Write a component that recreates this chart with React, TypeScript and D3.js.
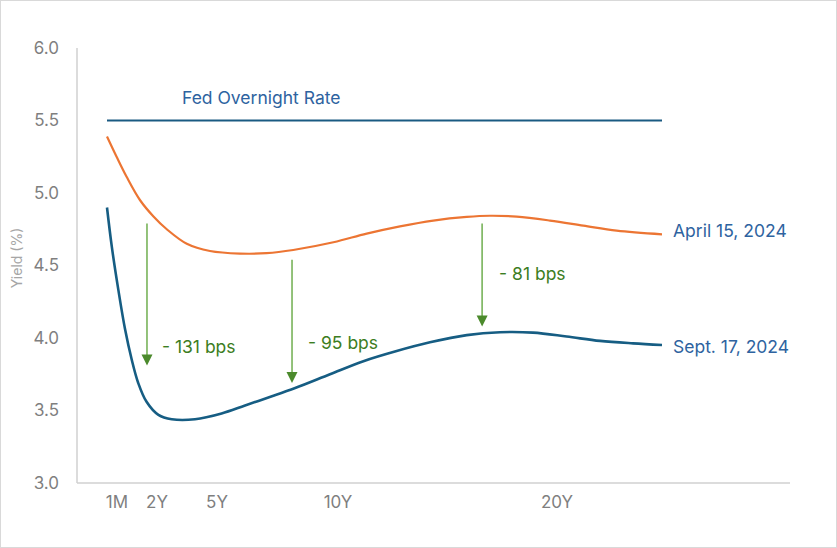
import React from 'react'
import * as d3 from 'd3'

// maturity in years
const tickYears = [1 / 12, 2, 5, 10, 20]
const tickLabels = ['1M', '2Y', '5Y', '10Y', '20Y']
const yTicks = [3.0, 3.5, 4.0, 4.5, 5.0, 5.5, 6.0]

const fedYears = [0, 25]
const fedRate = [5.5, 5.5]

const aprilYears = [0, 0.08, 0.55, 1.19, 1.82, 2.49, 3.49, 4.65, 5.95, 7.05, 8.15, 9.81, 11.31, 12.83, 14.35, 15.88, 16.94, 18.16, 19.68, 21.25, 22.84, 25]
const aprilYields = [5.39, 5.25, 5.11, 4.95, 4.84, 4.75, 4.65, 4.6, 4.582, 4.585, 4.607, 4.66, 4.72, 4.77, 4.81, 4.835, 4.843, 4.837, 4.81, 4.775, 4.74, 4.715]

const septYears = [0, 0.04, 0.15, 0.47, 0.79, 1.1, 1.5, 2.07, 2.74, 3.9, 5.19, 6.16, 7.27, 8.23, 9.67, 11.16, 12.68, 14.2, 15.88, 17.4, 18.9, 20.46, 22.05, 23.62, 25]
const septYields = [4.9, 4.63, 4.33, 4.06, 3.85, 3.69, 3.56, 3.47, 3.44, 3.44, 3.48, 3.535, 3.598, 3.655, 3.75, 3.84, 3.91, 3.97, 4.02, 4.04, 4.037, 4.01, 3.98, 3.963, 3.952]

const arrowYears = [1.52, 8.1, 16.58]
const arrowFrom = [4.79, 4.54, 4.79]
const arrowTo = [3.81, 3.69, 4.08]
const arrowLabels = ['- 131 bps', '- 95 bps', '- 81 bps']

const W = 837
const H = 548
const FONT = 'Inter, "Open Sans", sans-serif'

const App: React.FC = () => {
  // polylinear x scale: the category spacing in the original is not quite linear
  const x = d3.scaleLinear()
    .domain([0, 1 / 12, 2, 5, 10, 20, 25])
    .range([107, 117, 157, 217, 338, 557, 662])

  const y = d3.scaleLinear().domain([3, 6]).range([483, 48])

  const line = d3.line<[number, number]>()
    .x(d => x(d[0]))
    .y(d => y(d[1]))
    .curve(d3.curveCatmullRom.alpha(0.5))

  const april = aprilYears.map((v, i) => [v, aprilYields[i]] as [number, number])
  const sept = septYears.map((v, i) => [v, septYields[i]] as [number, number])
  const fed = fedYears.map((v, i) => [v, fedRate[i]] as [number, number])

  // label offsets relative to each arrow (px)
  const labelOffset = [
    { dx: 15, y: 347 },
    { dx: 16, y: 343 },
    { dx: 17, y: 274 },
  ]

  const lastA = april[april.length - 1]
  const lastS = sept[sept.length - 1]

  return (
    <svg width={W} height={H} style={{ position: 'absolute', left: 0, top: 0, fontFamily: FONT }}>
      <rect x={0.5} y={0.5} width={W - 1} height={H - 1} fill="#fff" stroke="#d9d9d9" />

      {/* axes */}
      <line x1={77} x2={790} y1={y(3)} y2={y(3)} stroke="#d0d0d0" strokeWidth={1.5} />
      <line x1={77} x2={77} y1={y(6)} y2={y(3)} stroke="#d0d0d0" strokeWidth={1.5} />

      {yTicks.map(t => (
        <text key={t} x={59} y={y(t)} dy="0.35em" textAnchor="end" fontSize={17} fill="#7f7f7f">
          {d3.format('.1f')(t)}
        </text>
      ))}
      {tickYears.map((t, i) => (
        <text key={t} x={x(t)} y={502} dy="0.35em" textAnchor="middle" fontSize={17} fill="#7f7f7f">
          {tickLabels[i]}
        </text>
      ))}
      <text transform={`translate(17,258) rotate(-90)`} textAnchor="middle"
        dy="0.35em" fontSize={14} fill="#a6a6a6">Yield (%)</text>

      {/* curves */}
      <path d={line(fed) || ''} fill="none" stroke="#1a5a82" strokeWidth={2} />
      <path d={line(april) || ''} fill="none" stroke="#ec7533" strokeWidth={2.2} />
      <path d={line(sept) || ''} fill="none" stroke="#165d83" strokeWidth={2.6} />

      <text x={182} y={98} dy="0.35em" fontSize={17.5} fill="#2e63a0">Fed Overnight Rate</text>
      <text x={x(lastA[0]) + 11} y={y(lastA[1]) - 3} dy="0.35em" fontSize={17.5} fill="#2e63a0">April 15, 2024</text>
      <text x={x(lastS[0]) + 11} y={y(lastS[1]) + 2} dy="0.35em" fontSize={17.5} fill="#2e63a0">Sept. 17, 2024</text>

      {/* change arrows */}
      {arrowYears.map((yr, i) => (
        <g key={yr}>
          <line x1={x(yr)} x2={x(yr)} y1={y(arrowFrom[i])} y2={y(arrowTo[i]) - 10}
            stroke="#6fae4f" strokeWidth={1.5} />
          <path d={`M${x(yr) - 5.5},${y(arrowTo[i]) - 11} L${x(yr) + 5.5},${y(arrowTo[i]) - 11} L${x(yr)},${y(arrowTo[i])} Z`}
            fill="#4b8a2c" />
          <text x={x(yr) + labelOffset[i].dx} y={labelOffset[i].y} dy="0.35em" fontSize={17.5} fill="#3c7d22">
            {arrowLabels[i]}
          </text>
        </g>
      ))}
    </svg>
  )
}

export default App
